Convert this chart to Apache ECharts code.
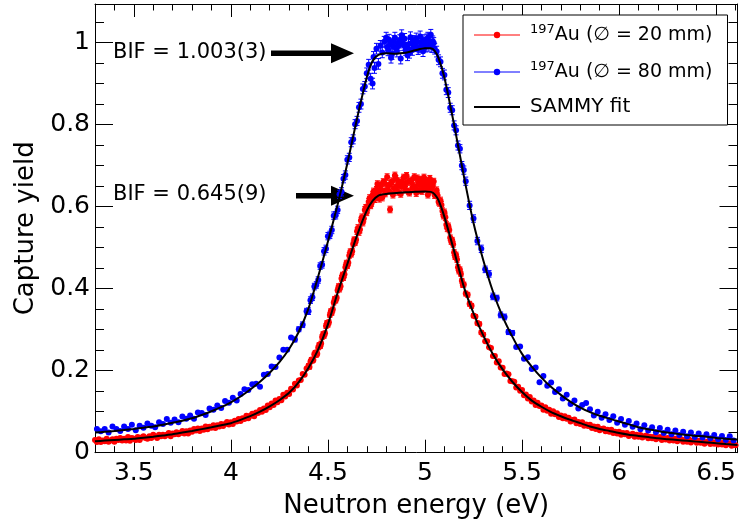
<!DOCTYPE html>
<html><head><meta charset="utf-8">
<script src="https://cdn.jsdelivr.net/npm/echarts@6/dist/echarts.min.js"></script>
<style>html,body{margin:0;padding:0;background:#fff}#c{width:741px;height:520px}</style>
</head><body><div id="c"></div>
<script>
// ---- tick values ----
const xTickLabels = [3.5, 4, 4.5, 5, 5.5, 6, 6.5];
const xMinorTicks = [3.3,3.4,3.5,3.6,3.7,3.8,3.9,4.0,4.1,4.2,4.3,4.4,4.5,4.6,4.7,4.8,4.9,5.0,5.1,5.2,5.3,5.4,5.5,5.6,5.7,5.8,5.9,6.0,6.1,6.2,6.3,6.4,6.5,6.6];
const yTickLabels = [0, 0.2, 0.4, 0.6, 0.8, 1];
const yMinorTicks = [0,0.05,0.1,0.15,0.2,0.25,0.3,0.35,0.4,0.45,0.5,0.55,0.6,0.65,0.7,0.75,0.8,0.85,0.9,0.95,1,1.05];

// ---- 197Au, diameter 20 mm: [energy (eV), yield, error] ----
const au20mm = [
[3.30,.031],[3.31,.026],[3.32,.033],[3.33,.026],[3.34,.030],[3.35,.028],[3.36,.034],[3.37,.027],[3.38,.030],[3.39,.033],
[3.40,.027],[3.41,.034],[3.42,.031],[3.43,.036],[3.44,.030],[3.45,.034],[3.46,.030],[3.47,.038],[3.48,.029],[3.49,.036],
[3.50,.034],[3.51,.031],[3.52,.038],[3.53,.031],[3.54,.037],[3.55,.040],[3.56,.036],[3.57,.034],[3.58,.040],[3.59,.036],
[3.60,.044],[3.61,.040],[3.62,.036],[3.63,.044],[3.64,.040],[3.65,.044],[3.66,.040],[3.67,.044],[3.68,.048],[3.69,.040],
[3.70,.047],[3.71,.045],[3.72,.050],[3.73,.045],[3.74,.048],[3.75,.053],[3.76,.047],[3.77,.052],[3.78,.047],[3.79,.054],
[3.80,.051],[3.81,.058],[3.82,.054],[3.83,.059],[3.84,.053],[3.85,.059],[3.86,.056],[3.87,.064],[3.88,.057],[3.89,.063],
[3.90,.061],[3.91,.067],[3.92,.060],[3.93,.067],[3.94,.064],[3.95,.070],[3.96,.065],[3.97,.070],[3.98,.075],[3.99,.069],
[4.00,.074],[4.01,.070],[4.02,.078],[4.03,.076],[4.04,.082],[4.05,.077],[4.06,.084],[4.07,.082],[4.08,.090],[4.09,.084],
[4.10,.090],[4.11,.095],[4.12,.089],[4.13,.098],[4.14,.097],[4.15,.104],[4.16,.100],[4.17,.108],[4.18,.104],[4.19,.115],
[4.20,.111],[4.21,.120],[4.22,.116],[4.23,.127],[4.24,.123],[4.25,.131],[4.26,.128],[4.27,.141],[4.28,.137],[4.29,.146],
[4.30,.143],[4.31,.156],[4.32,.154],[4.33,.168],[4.34,.164],[4.35,.176],[4.36,.177],[4.37,.192],[4.38,.190],[4.39,.205],
[4.40,.212,.005],[4.405,.209,.005],[4.41,.222,.005],[4.415,.227,.005],[4.42,.224,.005],[4.425,.226,.005],[4.43,.240,.005],[4.435,.244,.005],[4.44,.238,.005],[4.445,.241,.005],
[4.45,.256,.005],[4.455,.263,.005],[4.46,.259,.005],[4.465,.266,.006],[4.47,.282,.006],[4.475,.289,.006],[4.48,.285,.006],[4.485,.291,.006],[4.49,.309,.006],[4.495,.316,.006],
[4.50,.312,.006],[4.505,.318,.006],[4.51,.336,.006],[4.515,.345,.006],[4.52,.341,.006],[4.525,.349,.006],[4.53,.366,.006],[4.535,.375,.006],[4.54,.371,.006],[4.545,.378,.006],
[4.55,.396,.006],[4.555,.405,.007],[4.56,.399,.007],[4.565,.406,.007],[4.57,.425,.007],[4.575,.433,.007],[4.58,.427,.007],[4.585,.435,.007],[4.59,.452,.007],[4.595,.462,.007],
[4.60,.456,.007],[4.605,.463,.007],[4.61,.481,.007],[4.615,.490,.007],[4.62,.484,.007],[4.625,.491,.007],[4.63,.509,.007],[4.635,.519,.007],[4.64,.512,.007],[4.645,.519,.007],
[4.65,.540,.008],[4.655,.548,.008],[4.66,.538,.008],[4.665,.544,.008],[4.67,.566,.008],[4.675,.574,.008],[4.68,.561,.008],[4.685,.571,.008],[4.69,.592,.008],[4.695,.597,.008],
[4.70,.586,.008],[4.705,.598,.008],[4.71,.612,.008],[4.715,.621,.008],[4.72,.603,.008],[4.725,.609,.008],[4.73,.628,.008],[4.735,.637,.008],[4.74,.618,.008],[4.745,.626,.008],
[4.75,.641,.008],[4.755,.655,.008],[4.76,.633,.008],[4.765,.619,.008],[4.77,.652,.008],[4.775,.641,.008],[4.78,.622,.008],[4.785,.660,.008],[4.79,.658,.008],[4.795,.632,.008],
[4.80,.640,.008],[4.805,.672,.008],[4.81,.651,.008],[4.815,.638,.008],[4.82,.593,.008],[4.825,.657,.008],[4.83,.662,.008],[4.835,.629,.008],[4.84,.645,.008],[4.845,.676,.008],
[4.85,.668,.008],[4.855,.650,.008],[4.86,.636,.008],[4.865,.662,.008],[4.87,.655,.008],[4.875,.631,.008],[4.88,.649,.008],[4.885,.658,.008],[4.89,.671,.008],[4.895,.652,.008],
[4.90,.641,.008],[4.905,.675,.008],[4.91,.660,.008],[4.915,.637,.008],[4.92,.634,.008],[4.925,.661,.008],[4.93,.664,.008],[4.935,.646,.008],[4.94,.651,.008],[4.945,.672,.008],
[4.95,.645,.008],[4.955,.633,.008],[4.96,.669,.008],[4.965,.655,.008],[4.97,.640,.008],[4.975,.666,.008],[4.98,.657,.008],[4.985,.638,.008],[4.99,.648,.008],[4.995,.671,.008],
[5.00,.663,.008],[5.005,.652,.008],[5.01,.644,.008],[5.015,.629,.008],[5.02,.658,.008],[5.025,.668,.008],[5.03,.639,.008],[5.035,.649,.008],[5.04,.650,.008],[5.045,.661,.008],
[5.05,.628,.008],[5.055,.634,.008],[5.06,.640,.008],[5.065,.627,.008],[5.07,.612,.008],[5.075,.609,.008],[5.08,.615,.008],[5.085,.604,.008],[5.09,.589,.008],[5.095,.578,.008],
[5.10,.586,.008],[5.105,.574,.008],[5.11,.556,.008],[5.115,.547,.008],[5.12,.553,.007],[5.125,.543,.007],[5.13,.524,.007],[5.135,.515,.007],[5.14,.518,.007],[5.145,.508,.007],
[5.15,.488,.007],[5.155,.478,.007],[5.16,.482,.007],[5.165,.471,.007],[5.17,.452,.007],[5.175,.443,.007],[5.18,.446,.007],[5.185,.436,.006],[5.19,.419,.006],[5.195,.409,.006],
[5.20,.410,.006],[5.21,.388,.006],[5.22,.385,.006],[5.23,.363,.006],[5.24,.358,.006],[5.25,.334,.005],[5.26,.332,.005],[5.27,.316,.005],[5.28,.314,.005],[5.29,.293,.005],
[5.30,.288,.005],[5.31,.272],[5.32,.272],[5.33,.257],[5.34,.255],[5.35,.236],[5.36,.236],[5.37,.220],[5.38,.223],[5.39,.208],
[5.40,.207],[5.41,.192],[5.42,.193],[5.43,.191],[5.44,.175],[5.45,.174],[5.46,.173],[5.47,.159],[5.48,.161],[5.49,.151],
[5.50,.153],[5.51,.140],[5.52,.142],[5.53,.132],[5.54,.136],[5.55,.125],[5.56,.127],[5.57,.116],[5.58,.122],[5.59,.114],
[5.60,.115],[5.61,.105],[5.62,.111],[5.63,.102],[5.64,.105],[5.65,.095],[5.66,.101],[5.67,.094],[5.68,.096],[5.69,.087],
[5.70,.091],[5.71,.084],[5.72,.089],[5.73,.083],[5.74,.085],[5.75,.076],[5.76,.080],[5.77,.081],[5.78,.072],[5.79,.075],
[5.80,.070],[5.81,.074],[5.82,.066],[5.83,.069],[5.84,.065],[5.85,.068],[5.86,.060],[5.87,.064],[5.88,.058],[5.89,.063],
[5.90,.055],[5.91,.058],[5.92,.059],[5.93,.052],[5.94,.056],[5.95,.051],[5.96,.056],[5.97,.048],[5.98,.051],[5.99,.047],
[6.00,.051],[6.01,.044],[6.02,.048],[6.03,.045],[6.04,.048],[6.05,.041],[6.06,.044],[6.07,.046],[6.08,.039],[6.09,.044],
[6.10,.039],[6.11,.043],[6.12,.037],[6.13,.040],[6.14,.042],[6.15,.035],[6.16,.039],[6.17,.035],[6.18,.039],[6.19,.033],
[6.20,.036],[6.21,.038],[6.22,.031],[6.23,.036],[6.24,.032],[6.25,.036],[6.26,.030],[6.27,.034],[6.28,.030],[6.29,.034],
[6.30,.028],[6.31,.032],[6.32,.033],[6.33,.027],[6.34,.031],[6.35,.027],[6.36,.032],[6.37,.025],[6.38,.029],[6.39,.030],
[6.40,.024],[6.41,.029],[6.42,.024],[6.43,.029],[6.44,.022],[6.45,.026],[6.46,.028],[6.47,.021],[6.48,.026],[6.49,.022],
[6.50,.026],[6.51,.020],[6.52,.024],[6.53,.020],[6.54,.024],[6.55,.018],[6.56,.022],[6.57,.023],[6.58,.017],[6.59,.022],[6.60,.018]
];

// ---- 197Au, diameter 80 mm: [energy (eV), yield, error] ----
const au80mm = [
[3.31,.058],[3.33,.052],[3.35,.058],[3.37,.049],[3.39,.064],[3.41,.058],[3.43,.053],[3.45,.064],[3.47,.058],[3.49,.068],
[3.51,.055],[3.53,.066],[3.55,.061],[3.57,.071],[3.59,.066],[3.61,.062],[3.63,.074],[3.65,.070],[3.67,.082],[3.69,.073],
[3.71,.081],[3.73,.074],[3.75,.088],[3.77,.083],[3.79,.091],[3.81,.083],[3.83,.098],[3.85,.097],[3.87,.092],[3.89,.108],
[3.91,.105],[3.93,.115],[3.95,.109],[3.97,.126],[3.99,.122],[4.01,.134],[4.03,.127],[4.05,.143],[4.07,.155],[4.09,.153],
[4.11,.167],[4.13,.168],[4.15,.161],[4.17,.190],[4.19,.192],[4.21,.210],[4.23,.209],[4.25,.232],[4.27,.251],[4.29,.251],
[4.31,.281],[4.33,.276,.006],[4.35,.301,.006],[4.37,.312,.007],[4.39,.345,.007],
[4.40,.345,.008],[4.41,.372,.008],[4.42,.379,.008],[4.43,.405,.008],[4.44,.409,.008],[4.45,.421,.008],[4.46,.455,.008],[4.47,.458,.008],[4.48,.491,.009],[4.49,.497,.009],
[4.50,.528,.009],[4.51,.531,.009],[4.52,.543,.009],[4.53,.578,.009],[4.54,.579,.009],[4.55,.592,.009],[4.56,.630,.010],[4.57,.636,.010],[4.58,.668,.010],[4.59,.677,.010],
[4.60,.714,.010],[4.61,.720,.010],[4.62,.757,.011],[4.63,.764,.011],[4.64,.801,.011],[4.65,.809,.011],[4.66,.842,.012],[4.67,.850,.012],[4.68,.887,.012],[4.69,.893,.012],
[4.70,.925,.013],[4.71,.946,.013],[4.72,.912,.013],[4.73,.900,.013],[4.735,.965,.013],[4.74,.938,.013],[4.75,.985,.013],[4.76,.948,.013],[4.77,.992,.013],[4.78,.976,.013],
[4.79,1.002,.013],[4.80,1.012,.013],[4.805,.989,.013],[4.81,.981,.013],[4.815,1.007,.013],[4.82,.995,.013],[4.825,.963,.013],[4.83,.972,.013],[4.835,.991,.013],[4.84,1.004,.013],
[4.845,1.012,.013],[4.85,.986,.013],[4.855,.978,.013],[4.86,.998,.013],[4.865,.993,.013],[4.87,1.006,.013],[4.875,.961,.013],[4.88,1.018,.013],[4.885,1.000,.013],[4.89,.994,.013],
[4.895,1.009,.013],[4.90,.982,.013],[4.905,.987,.013],[4.91,.969,.013],[4.915,.996,.013],[4.92,.975,.013],[4.925,1.013,.013],[4.93,.998,.013],[4.935,.982,.013],[4.94,1.004,.013],
[4.945,.993,.013],[4.95,.991,.013],[4.955,1.010,.013],[4.96,1.002,.013],[4.965,.984,.013],[4.97,.988,.013],[4.975,1.015,.013],[4.98,1.001,.013],[4.985,.996,.013],[4.99,.979,.013],
[4.995,1.006,.013],[5.00,.995,.013],[5.005,.990,.013],[5.01,1.008,.013],[5.015,1.012,.013],[5.02,.992,.013],[5.025,1.000,.013],[5.03,1.019,.013],[5.035,.989,.013],[5.04,1.003,.013],
[5.045,.999,.013],[5.05,.985,.013],[5.06,.978,.013],[5.07,.958,.012],[5.08,.953,.012],[5.09,.925,.012],[5.10,.921,.012],[5.11,.885,.012],[5.12,.878,.012],[5.13,.841,.011],
[5.14,.835,.011],[5.15,.798,.011],[5.16,.786,.011],[5.17,.749,.011],[5.18,.741,.010],[5.19,.700,.010],[5.20,.689,.010],[5.21,.662,.010],[5.23,.603,.010],[5.25,.571,.009],
[5.27,.516,.009],[5.29,.497,.009],[5.31,.447,.008],[5.33,.436,.008],[5.35,.381,.008],[5.37,.377,.007],[5.39,.336,.007],[5.41,.331,.007],[5.43,.294,.006],[5.45,.292,.006],
[5.47,.258],[5.49,.259],[5.51,.229],[5.53,.233],[5.55,.204],[5.57,.208],[5.59,.172],[5.61,.187],[5.63,.163],[5.65,.171],
[5.67,.148],[5.69,.155],[5.71,.132],[5.73,.141],[5.75,.119],[5.77,.127],[5.79,.108],[5.81,.116],[5.83,.121],[5.85,.106],
[5.87,.091],[5.89,.100],[5.91,.085],[5.93,.094],[5.95,.080],[5.97,.089],[5.99,.073],[6.01,.082],[6.03,.068],[6.05,.077],
[6.07,.063],[6.09,.071],[6.11,.057],[6.13,.067],[6.15,.054],[6.17,.062],[6.19,.050],[6.21,.060],[6.23,.048],[6.25,.056],
[6.27,.045],[6.29,.054],[6.31,.043],[6.33,.051],[6.35,.040],[6.37,.049],[6.39,.038],[6.41,.047],[6.43,.037],[6.45,.045],
[6.47,.035],[6.49,.043],[6.51,.033],[6.53,.041],[6.55,.031],[6.57,.040],[6.59,.030]
];

// ---- SAMMY fits: [energy (eV), yield] ----
const fit20mm = [
[3.30,.028],[3.35,.0295],[3.40,.031],[3.45,.0325],[3.50,.034],[3.55,.0365],[3.60,.039],[3.65,.042],[3.70,.045],[3.75,.049],
[3.80,.053],[3.85,.0575],[3.90,.062],[3.95,.067],[4.00,.072],[4.05,.080],[4.10,.089],[4.15,.100],[4.20,.113],[4.25,.128],
[4.30,.146],[4.35,.172],[4.40,.207],[4.45,.252],[4.50,.313],[4.55,.390],[4.60,.460],[4.65,.530],[4.70,.590],[4.73,.614],
[4.76,.627],[4.80,.631],[4.85,.633],[4.90,.635],[4.95,.636],[5.00,.637],[5.03,.636],[5.05,.630],[5.07,.615],[5.10,.575],
[5.15,.492],[5.20,.405],[5.25,.340],[5.30,.286],[5.35,.240],[5.40,.203],[5.45,.173],[5.50,.148],[5.55,.127],[5.60,.112],
[5.65,.099],[5.70,.089],[5.75,.080],[5.80,.072],[5.85,.064],[5.90,.058],[5.95,.053],[6.00,.048],[6.05,.044],[6.10,.041],
[6.15,.038],[6.20,.035],[6.25,.033],[6.30,.031],[6.35,.029],[6.40,.027],[6.45,.025],[6.50,.023],[6.55,.021],[6.61,.019]
];
const fit80mm = [
[3.30,.049],[3.35,.051],[3.40,.053],[3.45,.0555],[3.50,.058],[3.55,.061],[3.60,.064],[3.65,.068],[3.70,.073],[3.75,.078],
[3.80,.084],[3.85,.092],[3.90,.101],[3.95,.111],[4.00,.123],[4.05,.137],[4.10,.154],[4.15,.173],[4.20,.195],[4.25,.221],
[4.30,.253],[4.35,.295],[4.40,.352],[4.45,.430],[4.50,.515],[4.55,.605],[4.60,.705],[4.65,.815],[4.70,.915],[4.73,.955],
[4.76,.970],[4.80,.974],[4.85,.973],[4.90,.975],[4.95,.981],[5.00,.986],[5.03,.986],[5.05,.980],[5.07,.962],[5.10,.915],
[5.15,.800],[5.20,.675],[5.25,.560],[5.30,.470],[5.35,.393],[5.40,.332],[5.45,.283],[5.50,.241],[5.55,.210],[5.60,.183],
[5.65,.160],[5.70,.141],[5.75,.124],[5.80,.110],[5.85,.099],[5.90,.090],[5.95,.083],[6.00,.076],[6.05,.069],[6.10,.062],
[6.15,.057],[6.20,.053],[6.25,.049],[6.30,.046],[6.35,.043],[6.40,.041],[6.45,.039],[6.50,.036],[6.55,.034],[6.61,.032]
];

const FONT = "'DejaVu Sans', sans-serif";
const RED = '#ff0000', BLUE = '#0000ff';

function xAx(pos, ticks, len, primary) {
  return {
    type: 'value', position: pos, min: 3.3, max: 6.61, gridIndex: 0,
    splitLine: {show: false},
    axisLine: {show: primary === 1 || primary === 0, onZero: false, lineStyle: {color: '#000', width: 1}},
    axisTick: {show: true, inside: true, length: len, customValues: ticks, lineStyle: {color: '#000', width: 1}},
    axisLabel: primary === 1 ? {show: true, customValues: xTickLabels, fontSize: 25, fontFamily: FONT, color: '#000', margin: 8} : {show: false},
    name: primary === 1 ? 'Neutron energy (eV)' : '',
    nameLocation: 'middle', nameGap: 41,
    nameTextStyle: {fontSize: 26, fontFamily: FONT, color: '#000'}
  };
}
function yAx(pos, ticks, len, primary) {
  return {
    type: 'value', position: pos, min: 0, max: 1.094, gridIndex: 0,
    splitLine: {show: false},
    axisLine: {show: primary === 1 || primary === 0, onZero: false, lineStyle: {color: '#000', width: 1}},
    axisTick: {show: true, inside: true, length: len, customValues: ticks, lineStyle: {color: '#000', width: 1}},
    axisLabel: primary === 1 ? {show: true, customValues: yTickLabels, fontSize: 25, fontFamily: FONT, color: '#000', margin: 5} : {show: false},
    name: primary === 1 ? 'Capture yield' : '',
    nameLocation: 'middle', nameGap: 56,
    nameTextStyle: {fontSize: 26, fontFamily: FONT, color: '#000'}
  };
}

function errBars(color) {
  return function (params, api) {
    const e = api.value(2);
    if (!(e > 0)) return null;
    const x = api.value(0), y = api.value(1);
    const t = api.coord([x, y + e]), b = api.coord([x, y - e]);
    const st = {stroke: color, lineWidth: 1};
    return {type: 'group', children: [
      {type: 'line', shape: {x1: t[0], y1: t[1], x2: b[0], y2: b[1]}, style: st},
      {type: 'line', shape: {x1: t[0] - 2.5, y1: t[1], x2: t[0] + 2.5, y2: t[1]}, style: st},
      {type: 'line', shape: {x1: b[0] - 2.5, y1: b[1], x2: b[0] + 2.5, y2: b[1]}, style: st}
    ]};
  };
}

const chart = echarts.init(document.getElementById('c'), null, {renderer: 'canvas'});
const option = {
  animation: false,
  backgroundColor: '#fff',
  grid: {left: 95, right: 3.5, top: 4, bottom: 67.3, containLabel: false, outerBoundsMode: 'none'},
  xAxis: [
    xAx('bottom', xTickLabels, 13, 1),
    xAx('bottom', xMinorTicks, 6.5, null),
    xAx('top', xTickLabels, 13, 0),
    xAx('top', xMinorTicks, 6.5, null)
  ],
  yAxis: [
    yAx('left', yTickLabels, 18, 1),
    yAx('left', yMinorTicks, 9, null),
    yAx('right', yTickLabels, 18, 0),
    yAx('right', yMinorTicks, 9, null)
  ],
  legend: {
    orient: 'vertical', left: 463, top: 15,
    padding: [8, 15, 8, 10], itemGap: 15.5, itemWidth: 46, itemHeight: 8,
    backgroundColor: '#fff', borderColor: '#000', borderWidth: 1, borderRadius: 0,
    selectedMode: false,
    data: [
      {name: 'Au20', lineStyle: {opacity: 1, width: 1, color: RED}, itemStyle: {color: RED, opacity: 1}},
      {name: 'Au80', lineStyle: {opacity: 1, width: 1, color: BLUE}, itemStyle: {color: BLUE, opacity: 1}},
      {name: 'SAMMY fit', lineStyle: {opacity: 1, width: 2, color: '#000'}, itemStyle: {opacity: 0}}
    ],
    formatter: function (n) {
      if (n === 'Au20') return '{s|197}{a|Au (\u2205 = 20 mm)}';
      if (n === 'Au80') return '{s|197}{a|Au (\u2205 = 80 mm)}';
      return '{m|SAMMY fit}';
    },
    textStyle: {
      width: 188, padding: [0, 0, 0, 5], fontFamily: FONT, color: '#000',
      rich: {
        s: {fontSize: 13, fontFamily: FONT, color: '#000', verticalAlign: 'top', lineHeight: 14},
        a: {fontSize: 19, fontFamily: FONT, color: '#000', lineHeight: 24},
        m: {fontSize: 20, fontFamily: FONT, color: '#000', lineHeight: 24}
      }
    }
  },
  graphic: [
    {type: 'text', x: 113, y: 53, style: {text: 'BIF = 1.003(3)', font: "21px 'DejaVu Sans'", fill: '#000', verticalAlign: 'middle', align: 'left'}},
    {type: 'text', x: 113, y: 195, style: {text: 'BIF = 0.645(9)', font: "21px 'DejaVu Sans'", fill: '#000', verticalAlign: 'middle', align: 'left'}},
    {type: 'polygon', shape: {points: [[271, 50.5], [331, 50.5], [331, 43.3], [354, 53.3], [331, 63.3], [331, 56], [271, 56]]}, style: {fill: '#000'}},
    {type: 'polygon', shape: {points: [[296, 193], [331, 193], [331, 185.7], [354, 195.7], [331, 205.7], [331, 198.5], [296, 198.5]]}, style: {fill: '#000'}}
  ],
  series: [
    {type: 'custom', name: 'err20', renderItem: errBars(RED), data: au20mm, dimensions: ['x', 'y', 'e'], encode: {x: 0, y: 1}, z: 2, silent: true},
    {type: 'custom', name: 'err80', renderItem: errBars(BLUE), data: au80mm, dimensions: ['x', 'y', 'e'], encode: {x: 0, y: 1}, z: 2, silent: true},
    {type: 'line', name: 'Au20', data: au20mm.map(d => [d[0], d[1]]), symbol: 'circle', symbolSize: 6, showSymbol: true, showAllSymbol: true,
     lineStyle: {opacity: 0, width: 1}, itemStyle: {color: RED}, z: 3, silent: true},
    {type: 'line', name: 'Au80', data: au80mm.map(d => [d[0], d[1]]), symbol: 'circle', symbolSize: 6, showSymbol: true, showAllSymbol: true,
     lineStyle: {opacity: 0, width: 1}, itemStyle: {color: BLUE}, z: 3, silent: true},
    {type: 'line', name: 'SAMMY fit', data: fit20mm, symbol: 'none', smooth: 0.25, lineStyle: {color: '#000', width: 2}, itemStyle: {color: '#000'}, z: 4, silent: true},
    {type: 'line', name: 'SAMMY fit', data: fit80mm, symbol: 'none', smooth: 0.25, lineStyle: {color: '#000', width: 2}, itemStyle: {color: '#000'}, z: 4, silent: true}
  ]
};
chart.setOption(option);
</script>
</body></html>
